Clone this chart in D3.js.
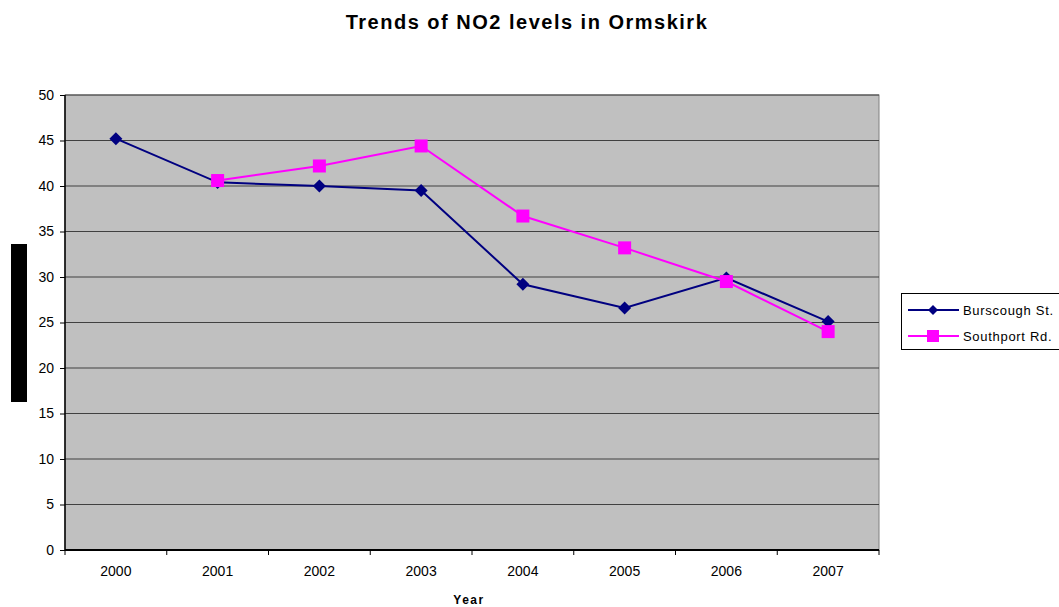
<!DOCTYPE html>
<html><head><meta charset="utf-8">
<script src="https://cdn.jsdelivr.net/npm/d3@7"></script>
<style>body{margin:0;background:#fff;font-family:"Liberation Sans",Arial,sans-serif}</style>
</head><body><svg id="c" width="1059" height="607"></svg>
<script>
const years = ["2000","2001","2002","2003","2004","2005","2006","2007"];
const burscough = [45.2, 40.4, 40.0, 39.5, 29.2, 26.6, 29.9, 25.1];
const southport = [null, 40.6, 42.2, 44.4, 36.7, 33.2, 29.5, 24.0];
const yTicks = [0,5,10,15,20,25,30,35,40,45,50];
const seriesNames = ["Burscough St.", "Southport Rd."];

const svg = d3.select("#c");
const L=65, R=879, T=95, B=550;
const x = d3.scaleBand().domain(years).range([L,R]).padding(0);
const y = d3.scaleLinear().domain([0,50]).range([B,T]);

svg.append("rect").attr("x",L).attr("y",T).attr("width",R-L).attr("height",B-T).attr("fill","#C0C0C0").attr("stroke","#808080").attr("stroke-width",1);

svg.append("g").selectAll("line").data(yTicks.filter(d=>d>0)).join("line")
  .attr("x1",L).attr("x2",R).attr("y1",d=>y(d)).attr("y2",d=>y(d)).attr("stroke","#404040").attr("stroke-width",1);

const yAxis = svg.append("g").attr("transform",`translate(${L},0)`)
  .call(d3.axisLeft(y).tickValues(yTicks).tickSize(5).tickPadding(6).tickFormat(d3.format("d")));
yAxis.select(".domain").attr("stroke","#000").attr("stroke-width",1.5).attr("d",`M0,${T}V${B}`);
yAxis.selectAll(".tick line").attr("stroke","#000");
yAxis.selectAll("text").attr("font-size",14).attr("font-family","Liberation Sans, Arial").attr("fill","#000");

const xAxis = svg.append("g").attr("transform",`translate(0,${B})`)
  .call(d3.axisBottom(x).tickSize(0).tickPadding(16));
xAxis.select(".domain").attr("stroke","#000").attr("stroke-width",2).attr("d",`M${L},0H${R}`);
xAxis.selectAll("text").attr("font-size",14).attr("font-family","Liberation Sans, Arial").attr("fill","#000");
svg.append("g").selectAll("line").data(years.concat(["end"])).join("line")
  .attr("x1",(d,i)=>L+i*x.bandwidth()).attr("x2",(d,i)=>L+i*x.bandwidth())
  .attr("y1",B).attr("y2",B+5).attr("stroke","#000");

const cx = d => x(d)+x.bandwidth()/2;
const line = d3.line().defined(d=>d.v!=null).x(d=>cx(d.k)).y(d=>y(d.v));
const bData = years.map((k,i)=>({k, v:burscough[i]}));
const sData = years.map((k,i)=>({k, v:southport[i]}));

svg.append("path").datum(bData).attr("d",line).attr("fill","none").attr("stroke","#000080").attr("stroke-width",2);
svg.append("g").selectAll("path").data(bData.filter(d=>d.v!=null)).join("path")
  .attr("d",d3.symbol(d3.symbolSquare,85)())
  .attr("transform",d=>`translate(${cx(d.k)},${y(d.v)}) rotate(45)`).attr("fill","#000080");
svg.append("path").datum(sData).attr("d",line).attr("fill","none").attr("stroke","#FF00FF").attr("stroke-width",2);
svg.append("g").selectAll("rect").data(sData.filter(d=>d.v!=null)).join("rect")
  .attr("x",d=>cx(d.k)-6.5).attr("y",d=>y(d.v)-6.5).attr("width",13).attr("height",13).attr("fill","#FF00FF");

svg.append("text").attr("x",527).attr("y",29).attr("text-anchor","middle").attr("font-size",20).attr("font-weight","bold")
  .attr("letter-spacing",1.5).attr("font-family","Liberation Sans, Arial").text("Trends of NO2 levels in Ormskirk");
svg.append("text").attr("x",469).attr("y",604).attr("text-anchor","middle").attr("font-size",12).attr("font-weight","bold")
  .attr("letter-spacing",1.5).attr("font-family","Liberation Sans, Arial").text("Year");
svg.append("rect").attr("x",11).attr("y",244).attr("width",16).attr("height",158).attr("fill","#000");

const lg = svg.append("g");
lg.append("rect").attr("x",901.5).attr("y",293.5).attr("width",170).attr("height",56).attr("fill","#fff").attr("stroke","#000");
const cols = ["#000080","#FF00FF"];
seriesNames.forEach((n,i)=>{
  const yy = 310 + i*26;
  lg.append("line").attr("x1",908).attr("x2",959).attr("y1",yy).attr("y2",yy).attr("stroke",cols[i]).attr("stroke-width",2);
  if(i===0) lg.append("path").attr("d",d3.symbol(d3.symbolSquare,50)()).attr("transform",`translate(933,${yy}) rotate(45)`).attr("fill",cols[i]);
  else lg.append("rect").attr("x",927).attr("y",yy-6).attr("width",12).attr("height",12).attr("fill",cols[i]);
  lg.append("text").attr("x",963).attr("y",yy+4.5).attr("font-size",13).attr("font-family","Liberation Sans, Arial").attr("letter-spacing",0.7).text(n);
});
</script></body></html>
